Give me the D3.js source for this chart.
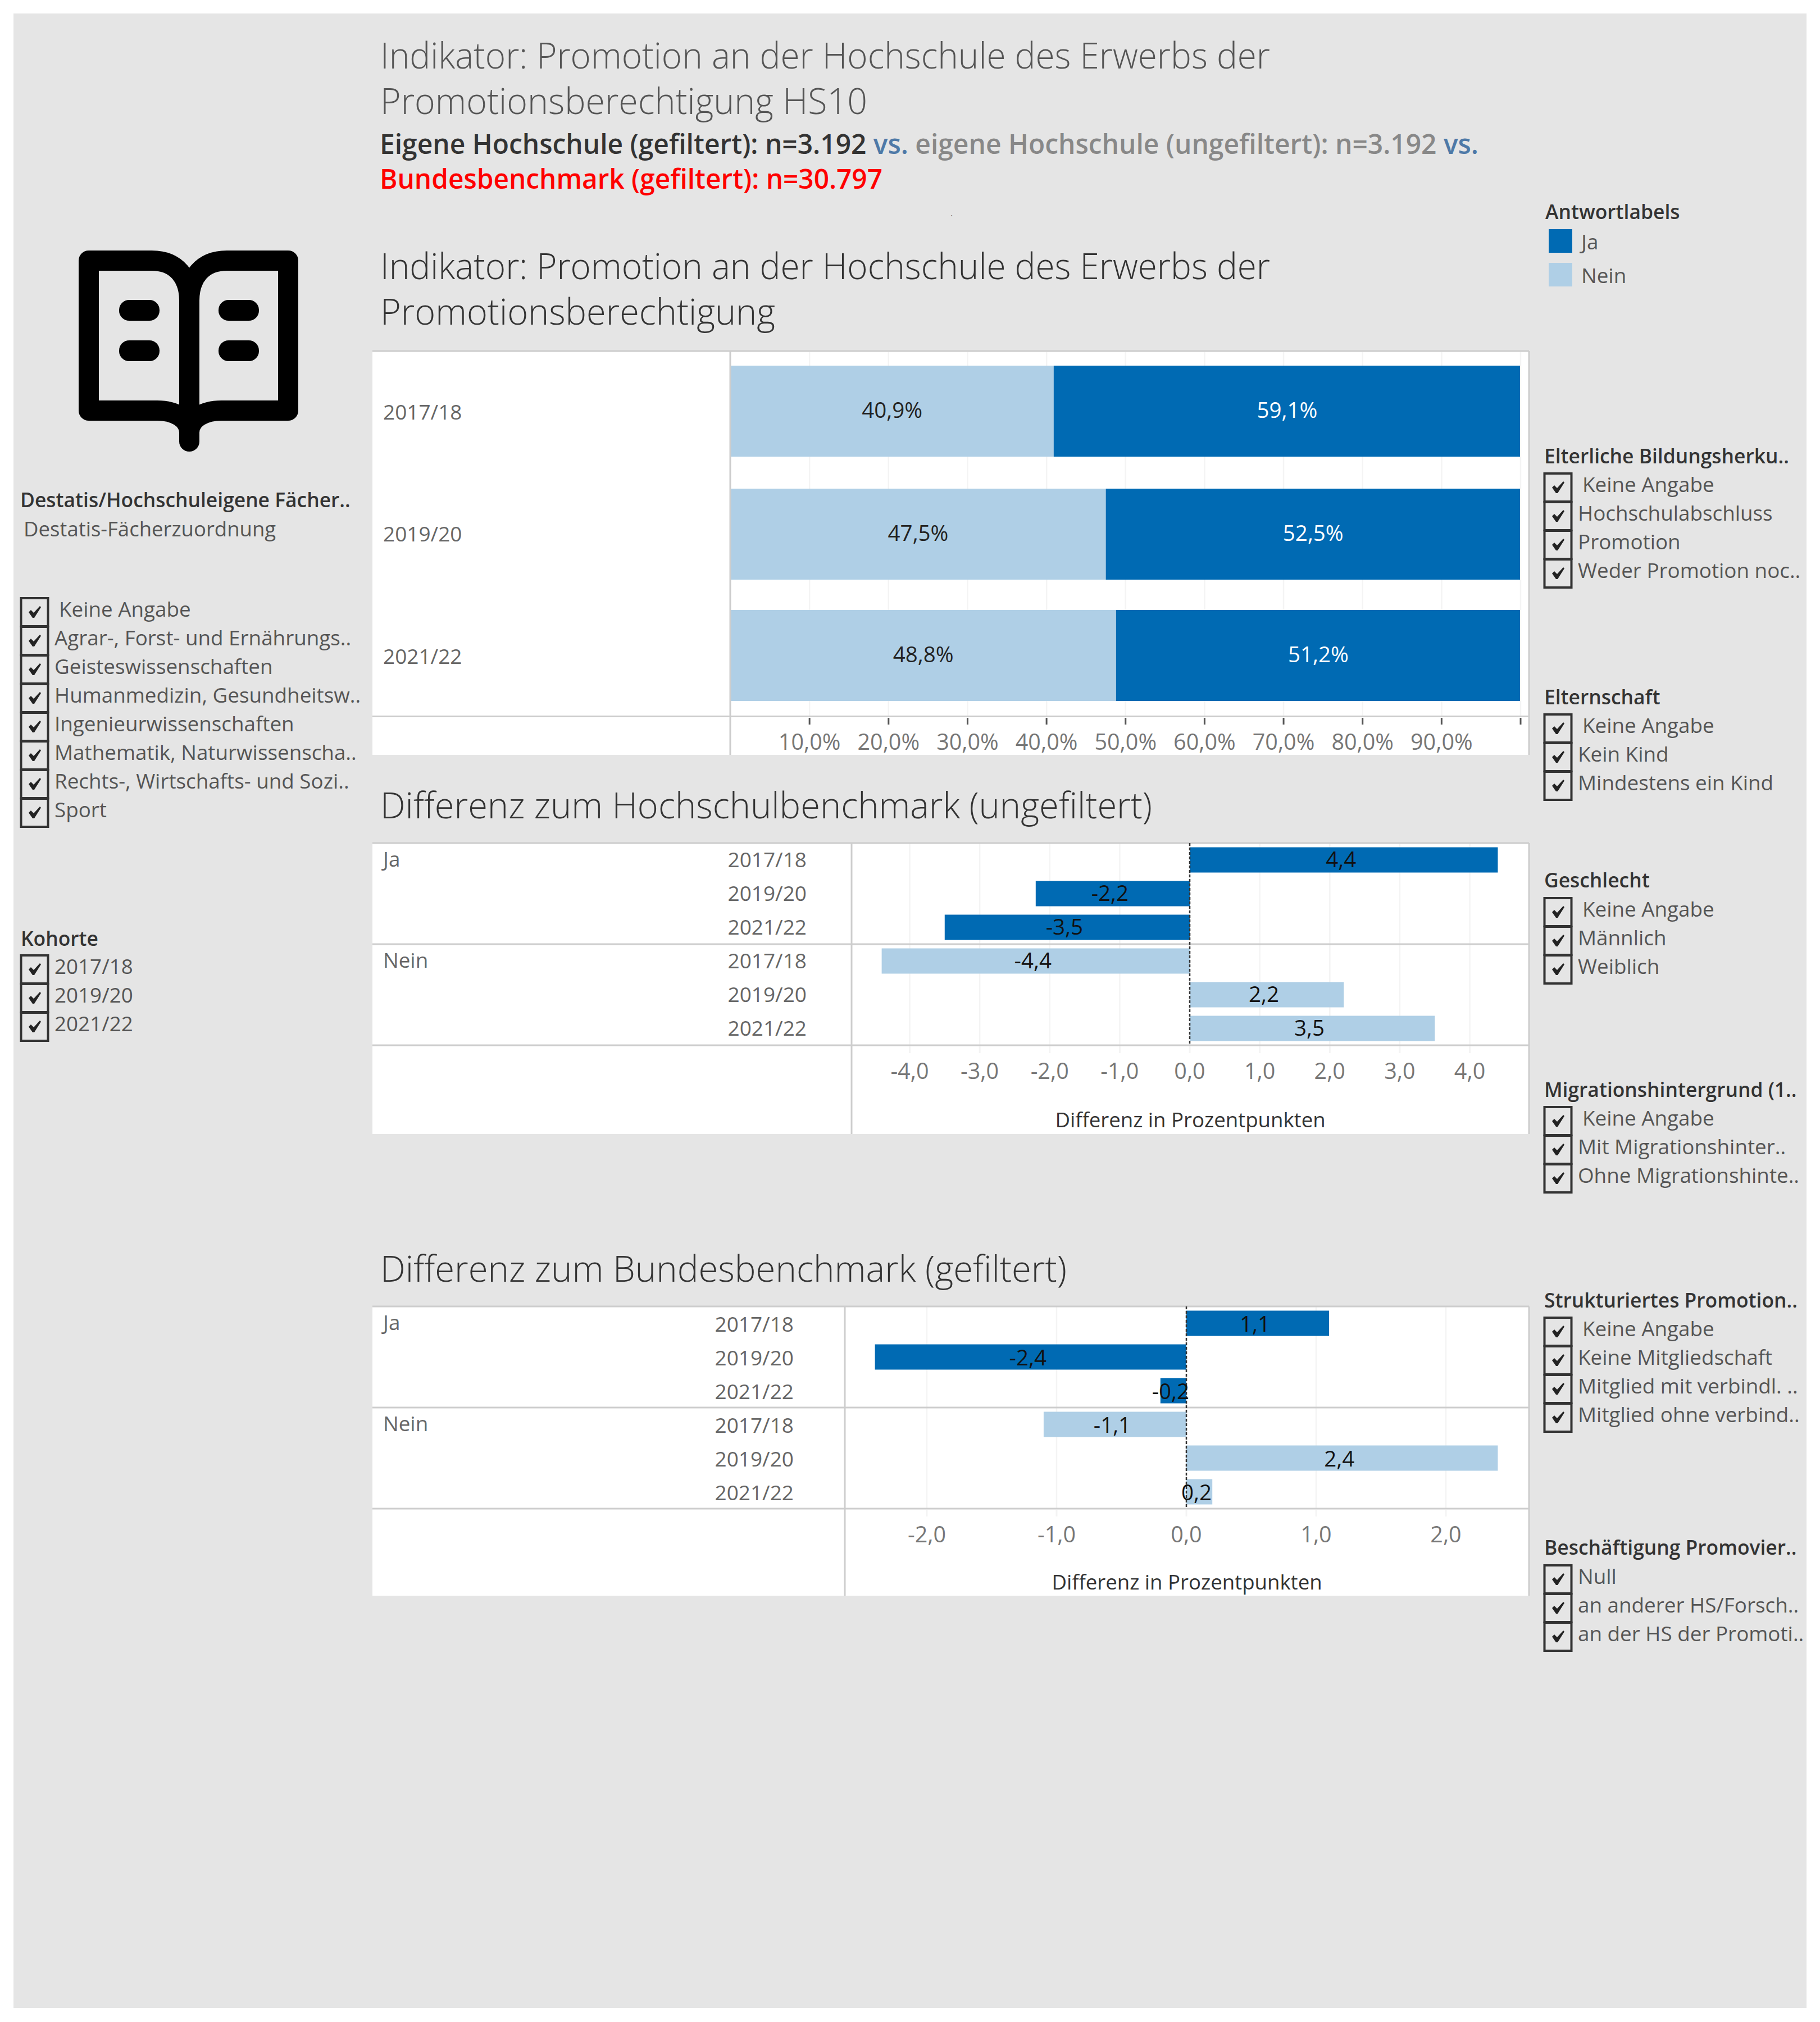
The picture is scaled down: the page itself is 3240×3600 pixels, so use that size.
<!DOCTYPE html>
<html><head><meta charset="utf-8">
<style>html,body{margin:0;padding:0;background:#fff}svg{display:block}text{font-family:"Open Sans",sans-serif}</style>
<script src="https://cdnjs.cloudflare.com/ajax/libs/d3/7.8.5/d3.min.js"></script>
</head><body><script>
const cohorts=["2017/18","2019/20","2021/22"];
const answers=["Ja","Nein"];
const shareNein=[40.9,47.5,48.8];
const shareJa=[59.1,52.5,51.2];
const shareTicks=[10,20,30,40,50,60,70,80,90];
const diffHochschulJa=[4.4,-2.2,-3.5];
const diffHochschulNein=[-4.4,2.2,3.5];
const diffBundJa=[1.1,-2.4,-0.2];
const diffBundNein=[-1.1,2.4,0.2];
const ticksHochschul=[-4,-3,-2,-1,0,1,2,3,4];
const ticksBund=[-2,-1,0,1,2];
const filterFach=["Keine Angabe","Agrar-, Forst- und Ernährungs..","Geisteswissenschaften","Humanmedizin, Gesundheitsw..","Ingenieurwissenschaften","Mathematik, Naturwissenscha..","Rechts-, Wirtschafts- und Sozi..","Sport"];
const filterEltern=["Keine Angabe","Hochschulabschluss","Promotion","Weder Promotion noc.."];
const filterKind=["Keine Angabe","Kein Kind","Mindestens ein Kind"];
const filterGeschlecht=["Keine Angabe","Männlich","Weiblich"];
const filterMigration=["Keine Angabe","Mit Migrationshinter..","Ohne Migrationshinte.."];
const filterStruktur=["Keine Angabe","Keine Mitgliedschaft","Mitglied mit verbindl. ..","Mitglied ohne verbind.."];
const filterBeschaeftigung=["Null","an anderer HS/Forsch..","an der HS der Promoti.."];
const C={bg:"#e5e5e5",ja:"#006ab3",nein:"#afcfe6",line:"#cdcdcd",grid:"#f4f4f4",axis:"#777",dark:"#333",mid:"#555"};
const comma=v=>v.toFixed(1).replace(".",",");
const svg=d3.select("body").append("svg").attr("width",3240).attr("height",3600);
svg.append("rect").attr("x",24).attr("y",24).attr("width",3192).attr("height",3551).attr("fill",C.bg);
function T(x,y,s,o={}){return svg.append("text").attr("x",x).attr("y",y).text(s)
 .attr("font-size",o.size||36).attr("font-weight",o.weight||400).attr("fill",o.fill||C.mid)
 .attr("text-anchor",o.anchor||"start").attr("textLength",o.len||null).attr("lengthAdjust",o.len?"spacingAndGlyphs":null);}
// titles
const TS=64, LBL=36.8, NUM=38.5, HEAD=35.4;
T(677,122,"Indikator: Promotion an der Hochschule des Erwerbs der",{size:TS,weight:300,fill:"#555",len:1584});
T(677,203,"Promotionsberechtigung HS10",{size:TS,weight:300,fill:"#555",len:867});
const sub=svg.append("text").attr("x",676).attr("y",274).attr("font-size",48).attr("font-weight",600);
[["Eigene Hochschule (gefiltert): n=3.192 ","#333"],["vs. ","#4e79a7"],["eigene Hochschule (ungefiltert): n=3.192 ","#888"],["vs.","#4e79a7"]].forEach(d=>sub.append("tspan").attr("fill",d[1]).text(d[0]));
sub.attr("textLength",1956).attr("lengthAdjust","spacingAndGlyphs");
T(676,336,"Bundesbenchmark (gefiltert): n=30.797",{size:48,weight:600,fill:"#f00",len:895});
T(1692,385,".",{size:16,fill:"#777"});
T(677,497,"Indikator: Promotion an der Hochschule des Erwerbs der",{size:TS,weight:300,fill:"#333",len:1584});
T(677,578,"Promotionsberechtigung",{size:TS,weight:300,fill:"#333",len:703});
T(677,1457,"Differenz zum Hochschulbenchmark (ungefiltert)",{size:TS,weight:300,fill:"#333",len:1374});
T(677,2282,"Differenz zum Bundesbenchmark (gefiltert)",{size:TS,weight:300,fill:"#333",len:1222});
// icon
const icon=svg.append("g");
icon.append("path").attr("fill","none").attr("stroke","#000").attr("stroke-width",36).attr("stroke-linejoin","round").attr("stroke-linecap","round")
 .attr("d","M337 786V535C337 495 315 464 270 464H158V731H280C310 731 337 745 337 770M337 535C337 495 359 464 404 464H513V731H394C364 731 337 745 337 770");
[[212,534],[212,606],[389,534],[389,606]].forEach(p=>icon.append("rect").attr("x",p[0]).attr("y",p[1]).attr("width",72).attr("height",37).attr("rx",18).attr("fill","#000"));
// filters
function filter(x,title,titleY,boxTop,items,firstOffset){
 if(title)T(x+1,titleY,title,{size:HEAD,weight:600,fill:"#333"});
 items.forEach((s,i)=>{
  const y=boxTop+i*51;
  svg.append("rect").attr("x",x+1.5).attr("y",y+1).attr("width",48).attr("height",50).attr("fill","none").attr("stroke","#333").attr("stroke-width",4);
  svg.append("path").attr("fill","#222").attr("d",`M${x+15} ${y+26}L${x+19} ${y+22}L${x+24} ${y+27}L${x+35} ${y+15}L${x+37} ${y+17}L${x+25} ${y+36}L${x+22} ${y+36}Z`);
  T(x+(i==0&&firstOffset?69:61),y+34,s,{size:LBL,fill:"#555"});
 });
}
T(36,903,"Destatis/Hochschuleigene Fächer..",{size:HEAD,weight:600,fill:"#333"});
T(42,955,"Destatis-Fächerzuordnung",{size:36.5,fill:"#555"});
filter(36,null,0,1064,filterFach,true);
filter(36,"Kohorte",1684,1700,cohorts,false);
filter(2748,"Elterliche Bildungsherku..",825,842,filterEltern,true);
filter(2748,"Elternschaft",1254,1271,filterKind,true);
filter(2748,"Geschlecht",1580,1598,filterGeschlecht,true);
filter(2748,"Migrationshintergrund (1..",1953,1970,filterMigration,true);
filter(2748,"Strukturiertes Promotion..",2328,2345,filterStruktur,true);
filter(2748,"Beschäftigung Promovier..",2768,2786,filterBeschaeftigung,false);
// legend
T(2751,390,"Antwortlabels",{size:HEAD,weight:600,fill:"#333"});
const swatch=d3.scaleOrdinal().domain(answers).range([C.ja,C.nein]);
answers.forEach((a,i)=>{svg.append("rect").attr("x",2757).attr("y",408+i*60).attr("width",42).attr("height",42).attr("fill",swatch(a));
 T(2815,444+i*60,a,{size:LBL,fill:"#555"});});
// chart 1
const L=663,R=2722;
function panel(top,bottom,axisX,seps){
 svg.append("rect").attr("x",L).attr("y",top).attr("width",R-L).attr("height",bottom-top).attr("fill","#fff");
 return ()=>{
 const g=svg.append("g").attr("stroke",C.line).attr("stroke-width",3).attr("fill","none");
 g.append("line").attr("x1",L).attr("x2",R).attr("y1",top).attr("y2",top);
 seps.forEach(y=>g.append("line").attr("x1",L).attr("x2",R).attr("y1",y).attr("y2",y));
 g.append("line").attr("x1",axisX).attr("x2",axisX).attr("y1",top).attr("y2",bottom);
 g.append("line").attr("x1",R).attr("x2",R).attr("y1",top).attr("y2",bottom);
 };
}
const d1=panel(625,1344,1300,[1275.5]);
const x1=d3.scaleLinear().domain([0,100]).range([1300.5,2707]);
const y1b=d3.scaleOrdinal().domain(cohorts).range([651,870,1086]);
const y1l=d3.scaleOrdinal().domain(cohorts).range([747,964,1182]);
svg.append("g").selectAll("line").data(shareTicks.concat(100)).join("line").attr("x1",d=>x1(d)).attr("x2",d=>x1(d)).attr("y1",627).attr("y2",1276).attr("stroke",C.grid).attr("stroke-width",2.5);
cohorts.forEach((c,i)=>{
 const y=y1b(c);
 svg.append("rect").attr("x",x1(0)).attr("y",y).attr("width",x1(shareNein[i])-x1(0)).attr("height",162).attr("fill",C.nein);
 svg.append("rect").attr("x",x1(shareNein[i])).attr("y",y).attr("width",x1(100)-1-x1(shareNein[i])).attr("height",162).attr("fill",C.ja);
 T((x1(0)+x1(shareNein[i]))/2,y+93,comma(shareNein[i])+"%",{size:NUM,fill:"#222",anchor:"middle"});
 T((x1(shareNein[i])+x1(100))/2,y+93,comma(shareJa[i])+"%",{size:NUM,fill:"#fff",anchor:"middle"});
 T(682,y1l(c),c,{size:37,fill:"#666"});
});
d1();
svg.append("g").selectAll("line").data(shareTicks.concat(100)).join("line").attr("x1",d=>x1(d)).attr("x2",d=>x1(d)).attr("y1",1278).attr("y2",1290).attr("stroke","#555").attr("stroke-width",3);
shareTicks.forEach(t=>T(x1(t),1335,comma(t)+"%",{size:NUM+1,fill:"#777",anchor:"middle"}));
// diff charts
function diff(o){
 const draw=panel(o.top,o.bottom,o.axisX,[o.top+180,o.top+360]);
 const x=d3.scaleLinear().domain(o.domain).range([o.axisX,o.end]);
 const rows=[];answers.forEach((a,ai)=>cohorts.forEach((c,ci)=>rows.push({a,c,v:(ai?o.nein:o.ja)[ci]})));
 const y=d3.scaleBand().domain(d3.range(6)).range([o.top,o.top+360]).paddingInner(0.25).paddingOuter(0.125);
 svg.append("g").selectAll("line").data(o.ticks).join("line").attr("x1",d=>x(d)).attr("x2",d=>x(d)).attr("y1",o.top).attr("y2",o.top+360).attr("stroke",C.grid).attr("stroke-width",2.5);
 rows.forEach((r,i)=>{
  svg.append("rect").attr("x",Math.min(x(0),x(r.v))).attr("y",y(i)).attr("width",Math.abs(x(r.v)-x(0))).attr("height",y.bandwidth()).attr("fill",r.a=="Ja"?C.ja:C.nein);
 });
 draw();
 svg.append("line").attr("x1",x(0)).attr("x2",x(0)).attr("y1",o.top).attr("y2",o.top+360).attr("stroke","#333").attr("stroke-width",2.5).attr("stroke-dasharray","5 3");
 rows.forEach((r,i)=>{
  T((x(0)+x(r.v))/2-5,y(i)+35+o.dy,comma(r.v),{size:NUM,fill:"#111",anchor:"middle"});
  T(o.yearX,y(i)+35+o.dy,r.c,{size:37,fill:"#666",anchor:"end"});
 });
 answers.forEach((a,i)=>T(682,o.top+42+i*180,a,{size:LBL,fill:"#666"}));
 const b=o.top+360;
 svg.append("g").selectAll("line").data(o.ticks).join("line").attr("x1",d=>x(d)).attr("x2",d=>x(d)).attr("y1",b+2).attr("y2",b+14).attr("stroke",C.grid).attr("stroke-width",3);
 o.ticks.forEach(t=>T(x(t),b+60,comma(t),{size:NUM+1,fill:"#777",anchor:"middle"}));
 T(x(0)+1,o.titleY,"Differenz in Prozentpunkten",{size:36.6,weight:500,fill:"#333",anchor:"middle"});
}
diff({top:1501,bottom:2019,axisX:1516,end:2720,domain:[-4.83,4.83],ticks:ticksHochschul,ja:diffHochschulJa,nein:diffHochschulNein,yearX:1436,titleY:2007,dy:0});
diff({top:2326,bottom:2841,axisX:1504,end:2720,domain:[-2.632,2.632],ticks:ticksBund,ja:diffBundJa,nein:diffBundNein,yearX:1413,titleY:2830,dy:2});
</script></body></html>
